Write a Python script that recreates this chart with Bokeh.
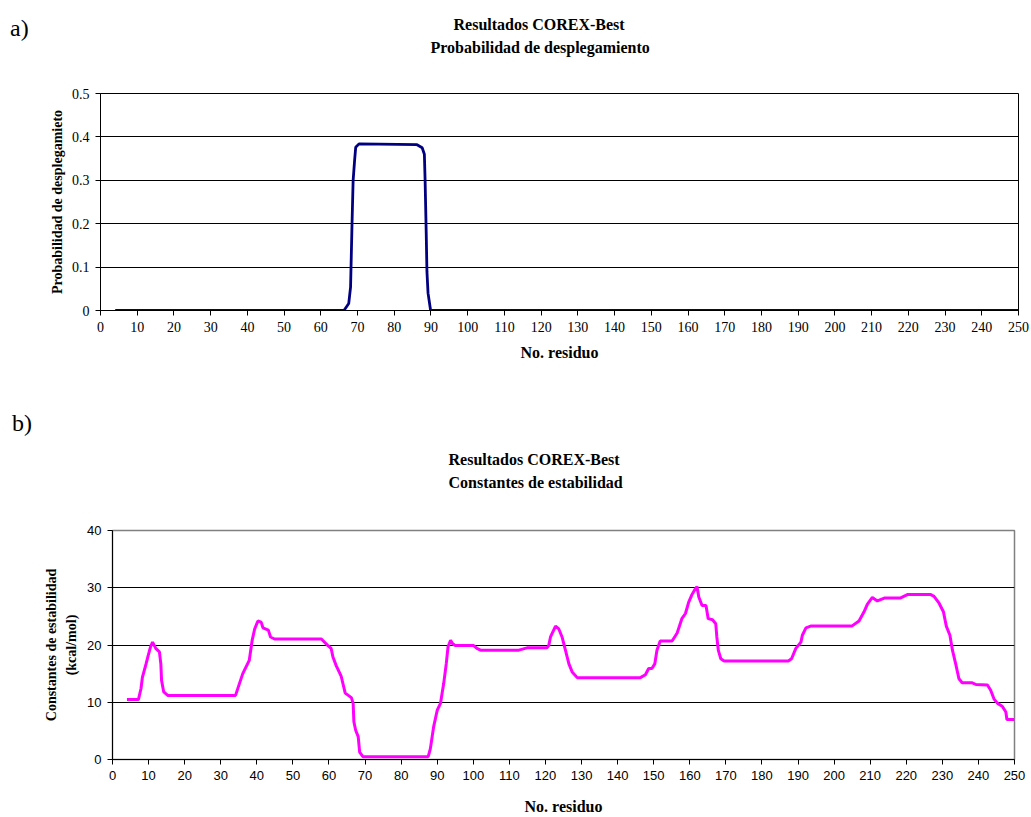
from bokeh.plotting import figure
from bokeh.models import Range1d, FixedTicker, Title, Div
from bokeh.layouts import column, row
from bokeh.embed import file_html
from bokeh.resources import INLINE

# ---------------- data ----------------
a_residue = [4, 66.3, 67.6, 68.1, 68.5, 68.8, 69.2, 69.5, 70.4, 86.2, 87.6, 88.2,
             88.4, 88.7, 88.9, 89.2, 89.9, 250]
a_prob = [0, 0, 0.016, 0.054, 0.2, 0.3, 0.346, 0.376, 0.384, 0.382, 0.375, 0.36,
          0.3, 0.18, 0.09, 0.04, 0, 0]

b_residue = [4, 7.2, 7.9, 8.3, 9.3, 9.9, 10.5, 11.1, 12, 13, 13.4, 13.6, 14.2, 15.3,
             34.1, 35.2, 36.1, 37.9, 38.7, 39.4, 40.3, 41.2, 41.7, 43.2, 43.8, 44.9,
             57.9, 59.7, 60.6, 61.1, 62, 63.4, 64.5, 66.2, 66.7, 66.9, 67.4, 68.1, 68.5, 69.4,
             87.5, 88.1, 89, 90, 90.9, 91.8, 92.5, 93, 93.7, 94.3, 95, 100.1, 101, 102,
             112.6, 114.9, 120.4, 120.9, 121.4, 122.8, 123.7, 124.6, 125.5, 126.5, 127.4, 128.8,
             146.3, 147.7, 148.6, 149.5, 150.3, 150.9, 151.8, 155.1, 156.5, 157.8, 158.8,
             159.7, 160.6, 161.5, 162, 162.5, 163.4, 164.5, 165.1, 166.3, 167.2, 167.5, 167.9,
             168.6, 169.5, 187.3, 188.2, 189.4, 190.8, 191.2, 192.2, 193.5, 204.9, 206.9,
             208.3, 209.2, 210.6, 212, 213.9, 218.3, 220.3, 226.8, 227.7, 229.1, 230.3, 231.1,
             232.1, 232.8, 233.7, 234.6, 235.5, 238.3, 239.3, 242.5, 243.4, 244.3, 245.3,
             246.6, 247.6, 247.9, 250]
b_const = [10.5, 10.5, 12.4, 14.4, 16.7, 18.2, 19.6, 20.5, 19.4, 18.8, 16.7, 13.8, 11.8, 11.2,
           11.2, 13.3, 15.0, 17.3, 20.8, 22.8, 24.2, 24.0, 23.0, 22.6, 21.4, 21.05,
           21.05, 19.9, 19.4, 17.9, 16.4, 14.5, 11.6, 10.8, 9.8, 6.6, 5.1, 4.0, 1.3, 0.5,
           0.5, 1.9, 5.7, 8.6, 9.8, 13.3, 16.7, 19.7, 20.8, 20.2, 19.9, 19.9, 19.4, 19.1,
           19.1, 19.5, 19.5, 19.9, 21.4, 23.3, 22.8, 21.4, 19.2, 16.7, 15.3, 14.3,
           14.3, 14.8, 15.9, 15.9, 16.7, 19.1, 20.7, 20.7, 22.1, 24.6, 25.5,
           27.5, 28.8, 29.8, 30.2, 28.4, 26.9, 26.9, 24.6, 24.4, 23.7, 21.4, 19.1,
           17.6, 17.2, 17.2, 17.6, 19.4, 20.5, 21.7, 23.0, 23.3, 23.3, 24.2,
           25.8, 27.1, 28.3, 27.7, 28.2, 28.2, 28.8, 28.8, 28.5, 27.3, 25.8, 23.3,
           21.7, 19.1, 16.7, 14.1, 13.4, 13.4, 13.1, 13.0, 12.1, 10.6, 9.8,
           9.3, 8.3, 7.0, 7.0]

x_ticks = list(range(0, 251, 10))
a_yticks = [0, 0.1, 0.2, 0.3, 0.4, 0.5]
a_grid = [0.1, 0.2, 0.3, 0.4]
b_yticks = [0, 10, 20, 30, 40]
b_grid = [10, 20, 30]

SERIF = "Liberation Serif"
SANS = "Liberation Sans"


def style_axes(p, font, size, grid_ticks):
    for ax in (p.xaxis[0], p.yaxis[0]):
        ax.major_tick_in = 0
        ax.major_tick_out = 5
        ax.minor_tick_in = 0
        ax.minor_tick_out = 0
        ax.axis_line_color = "black"
        ax.major_tick_line_color = "black"
        ax.major_label_text_font = font
        ax.major_label_text_font_size = size
        ax.major_label_text_color = "black"
        ax.major_label_standoff = 6
        ax.axis_label_text_font = SERIF
        ax.axis_label_text_font_style = "bold"
        ax.axis_label_text_color = "black"
    p.xgrid.visible = False
    p.ygrid.ticker = FixedTicker(ticks=grid_ticks)
    p.ygrid.grid_line_color = "black"
    p.ygrid.grid_line_width = 1


def add_titles(p, line1, off1, line2, off2, gap):
    # spacer between frame and the two title lines (blank title)
    p.add_layout(Title(text=" ", standoff=gap, text_font=SERIF,
                       text_font_size="16px"), "above")
    p.add_layout(Title(text=line2, align="left", offset=off2, standoff=8,
                       text_font=SERIF, text_font_size="16px",
                       text_font_style="bold", text_color="black"), "above")
    p.add_layout(Title(text=line1, align="left", offset=off1, standoff=0,
                       text_font=SERIF, text_font_size="16px",
                       text_font_style="bold", text_color="black"), "above")


# ---------------- chart a ----------------
p1 = figure(width=996, height=380, output_backend="svg", toolbar_location=None,
            x_range=Range1d(0, 250), y_range=Range1d(0, 0.5),
            min_border_left=66, min_border_right=12, min_border_top=93,
            min_border_bottom=70)
p1.xaxis.ticker = FixedTicker(ticks=x_ticks)
p1.yaxis.ticker = FixedTicker(ticks=a_yticks)
p1.yaxis.major_label_overrides = {0: "0"}
style_axes(p1, SERIF, "14px", a_grid)
p1.yaxis.axis_label = "Probabilidad de desplegamieto"
p1.yaxis.axis_label_text_font_size = "14px"
p1.yaxis.axis_label_standoff = 4
p1.xaxis.axis_label = "No. residuo"
p1.xaxis.axis_label_text_font_size = "16px"
p1.xaxis.axis_label_standoff = 9
p1.outline_line_color = "black"
p1.outline_line_width = 1
add_titles(p1, "Resultados COREX-Best", 353, "Probabilidad de desplegamiento", 330, 15)
p1.line(a_residue, a_prob, line_color="#000080", line_width=2.8)

div_a = Div(text="a)", width=34, height=380, margin=0,
            styles={"font-family": SERIF, "font-size": "24px", "padding-left": "10px",
                    "padding-top": "11px", "color": "black"})

# ---------------- chart b ----------------
p2 = figure(width=994, height=437, output_backend="svg", toolbar_location=None,
            x_range=Range1d(0, 250), y_range=Range1d(0, 40),
            min_border_left=76, min_border_right=16, min_border_top=150,
            min_border_bottom=58)
p2.xaxis.ticker = FixedTicker(ticks=x_ticks)
p2.yaxis.ticker = FixedTicker(ticks=b_yticks)
style_axes(p2, SANS, "13px", b_grid)
p2.yaxis.axis_label = "Constantes de estabilidad\n(kcal/mol)"
p2.yaxis.axis_label_text_font_size = "14px"
p2.yaxis.axis_label_text_line_height = 1.35
p2.yaxis.axis_label_standoff = 5
p2.xaxis.axis_label = "No. residuo"
p2.xaxis.axis_label_text_font_size = "16px"
p2.xaxis.axis_label_standoff = 15
p2.outline_line_color = "#808080"
p2.outline_line_width = 1.5
add_titles(p2, "Resultados COREX-Best", 336, "Constantes de estabilidad", 336, 17)
p2.line(b_residue, b_const, line_color="#FF00FF", line_width=3)

div_b = Div(text="b)", width=36, height=437, margin=0,
            styles={"font-family": SERIF, "font-size": "24px", "padding-left": "12px",
                    "padding-top": "26px", "color": "black"})

layout = column(row(div_a, p1, spacing=0), row(div_b, p2, spacing=0), spacing=0)
open("out.html", "w").write(file_html(layout, INLINE))
